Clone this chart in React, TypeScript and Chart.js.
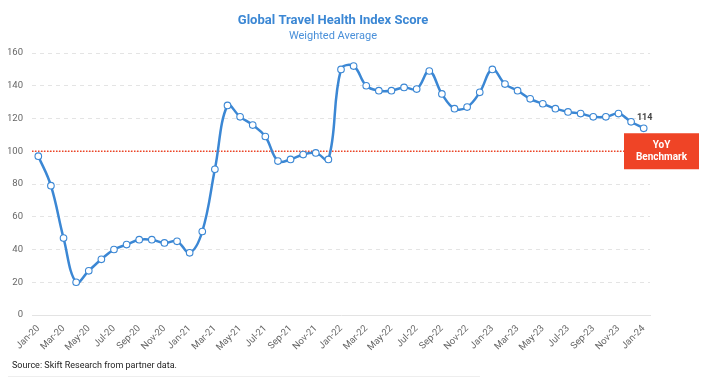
import React, { useEffect, useRef } from "react";
import { Chart, registerables } from "chart.js";

Chart.register(...registerables);

const months = [
  "Jan-20","Feb-20","Mar-20","Apr-20","May-20","Jun-20","Jul-20","Aug-20","Sep-20","Oct-20","Nov-20","Dec-20",
  "Jan-21","Feb-21","Mar-21","Apr-21","May-21","Jun-21","Jul-21","Aug-21","Sep-21","Oct-21","Nov-21","Dec-21",
  "Jan-22","Feb-22","Mar-22","Apr-22","May-22","Jun-22","Jul-22","Aug-22","Sep-22","Oct-22","Nov-22","Dec-22",
  "Jan-23","Feb-23","Mar-23","Apr-23","May-23","Jun-23","Jul-23","Aug-23","Sep-23","Oct-23","Nov-23","Dec-23",
  "Jan-24",
];

const indexScore = [
  97, 79, 47, 20, 27, 34, 40, 43, 46, 46, 44, 45,
  38, 51, 89, 128, 121, 116, 109, 94, 95, 98, 99, 95,
  150, 152, 140, 137, 137, 139, 138, 149, 135, 126, 127, 136,
  150, 141, 137, 132, 129, 126, 124, 123, 121, 121, 123, 118,
  114,
];

const yTicks = [0, 20, 40, 60, 80, 100, 120, 140, 160];
const benchmarkValue = 100;
const titleText = "Global Travel Health Index Score";
const subtitleText = "Weighted Average";
const sourceText = "Source: Skift Research from partner data.";
const benchmarkLines = ["YoY", "Benchmark"];

const BLUE = "#3b87d4";
const RED = "#ef4426";

const overlayPlugin = {
  id: "overlay",
  beforeDatasetsDraw(chart: any) {
    const { ctx, chartArea, scales } = chart;
    const y = scales.y.getPixelForValue(benchmarkValue);
    ctx.save();
    ctx.strokeStyle = RED;
    ctx.lineWidth = 1.3;
    ctx.setLineDash([1.5, 1.5]);
    ctx.beginPath();
    ctx.moveTo(chartArea.left, y);
    ctx.lineTo(chartArea.right - 26, y);
    ctx.stroke();
    ctx.restore();
  },
  afterDraw(chart: any) {
    const { ctx, chartArea, scales } = chart;
    ctx.save();
    // Title and subtitle
    const cx = (chartArea.left + chartArea.right) / 2 - 8;
    ctx.textAlign = "center";
    ctx.textBaseline = "middle";
    ctx.fillStyle = BLUE;
    ctx.font = "bold 13px Roboto";
    ctx.fillText(titleText, cx, 13);
    ctx.font = "11px Roboto";
    ctx.fillStyle = "#4a90d9";
    ctx.fillText(subtitleText, cx, 28);

    // Benchmark box
    const by = scales.y.getPixelForValue(benchmarkValue);
    const bx = chartArea.right - 26;
    const bw = 75;
    const bh = 36;
    ctx.fillStyle = RED;
    ctx.fillRect(bx, by - 18, bw, bh);
    ctx.fillStyle = "#ffffff";
    ctx.font = "bold 10px Roboto";
    ctx.fillText(benchmarkLines[0], bx + bw / 2, by - 6);
    ctx.fillText(benchmarkLines[1], bx + bw / 2, by + 6);

    // Last value label
    const lastIdx = indexScore.length - 1;
    const lx = scales.x.getPixelForValue(lastIdx);
    const ly = scales.y.getPixelForValue(indexScore[lastIdx]);
    ctx.fillStyle = "#444444";
    ctx.font = "bold 9px Roboto";
    ctx.fillText(String(indexScore[lastIdx]), lx + 1, ly - 11);

    // Source
    ctx.textAlign = "left";
    ctx.fillStyle = "#222222";
    ctx.font = "9px Roboto";
    ctx.fillText(sourceText, 4, chart.height - 14);

    // bottom separator
    ctx.strokeStyle = "#eeeeee";
    ctx.lineWidth = 1;
    ctx.beginPath();
    ctx.moveTo(0, chart.height - 3.5);
    ctx.lineTo(472, chart.height - 3.5);
    ctx.stroke();
    ctx.restore();
  },
};

export default function App() {
  const ref = useRef<HTMLCanvasElement | null>(null);
  useEffect(() => {
    if (!ref.current) return;
    const chart = new Chart(ref.current, {
      type: "line",
      data: {
        labels: months,
        datasets: [
          {
            data: indexScore,
            borderColor: BLUE,
            borderWidth: 2.5,
            tension: 0.4,
            pointRadius: 3.3,
            pointBackgroundColor: "#ffffff",
            pointBorderColor: BLUE,
            pointBorderWidth: 1.1,
            fill: false,
          },
        ],
      },
      options: {
        responsive: false,
        animation: false,
        layout: { padding: { top: 45, right: 64, bottom: 20, left: 0 } },
        plugins: {
          legend: { display: false },
          title: { display: false },
          tooltip: { enabled: false },
        },
        scales: {
          x: {
            offset: true,
            grid: { display: false, drawTicks: false },
            border: { display: true, color: "#e3e3e3" },
            afterFit: (s: any) => {
              s.height = 45;
            },
            ticks: {
              autoSkip: false,
              minRotation: 45,
              maxRotation: 45,
              padding: 8,
              color: "#666666",
              font: { family: "Roboto", size: 9.5 },
              callback: (_v: any, i: number) => (i % 2 === 0 ? months[i] : ""),
            },
          },
          y: {
            min: 0,
            max: 160,
            afterFit: (s: any) => {
              s.width = 24;
            },
            afterBuildTicks: (s: any) => {
              s.ticks = yTicks.map((v) => ({ value: v }));
            },
            grid: {
              color: "#e4e4e4",
              drawTicks: false,
            },
            border: { display: false, dash: [4, 4] },
            ticks: {
              padding: 9,
              color: "#666666",
              font: { family: "Roboto", size: 9.5 },
            },
          },
        },
      },
      plugins: [overlayPlugin],
    });
    return () => chart.destroy();
  }, []);
  return <canvas ref={ref} width={706} height={372} style={{ display: "block" }} />;
}
